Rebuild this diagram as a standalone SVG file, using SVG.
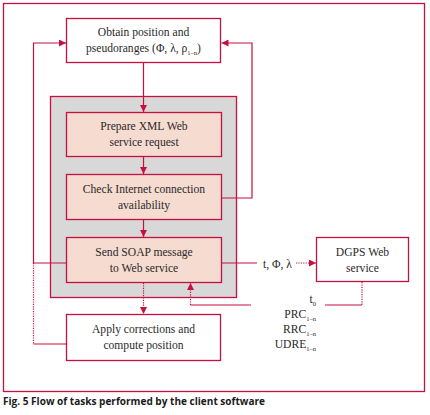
<svg xmlns="http://www.w3.org/2000/svg" width="430" height="415" viewBox="0 0 430 415">
<defs>
<style>
.ln{fill:none;stroke:#c8103e;stroke-width:1.2}
.dt{fill:none;stroke:#c8103e;stroke-width:1.2;stroke-dasharray:1.2 1.2}
.box{fill:#ffffff;stroke:#c8103e;stroke-width:1.3}
.pbox{fill:#f5dbd0;stroke:#c8103e;stroke-width:1.3}
.t{font-family:"Liberation Serif","Times New Roman",serif;font-size:11.6px;fill:#2a2a2a;text-anchor:middle}
.r{font-family:"Liberation Serif","Times New Roman",serif;font-size:11.6px;fill:#2a2a2a;text-anchor:end}
.sub{font-size:6.5px}
</style>
<marker id="ah" viewBox="0 0 10 10" refX="10" refY="5" markerWidth="7" markerHeight="7" markerUnits="userSpaceOnUse" orient="auto">
<path d="M0,0 L10,5 L0,10 z" fill="#c8103e"/>
</marker>
</defs>
<rect x="3.5" y="3.5" width="421" height="388" fill="#ffffff" stroke="#c8103e" stroke-width="1.3"/>
<text x="3" y="405" font-family="'Open Sans','Liberation Sans',sans-serif" font-weight="bold" font-size="10.5" fill="#1a1a1a" textLength="262" lengthAdjust="spacingAndGlyphs">Fig. 5 Flow of tasks performed by the client software</text>

<g id="container">
<rect x="50.5" y="96.5" width="186" height="201" fill="#d8d8d8" stroke="#c8103e" stroke-width="1.3"/>
</g>

<g id="connectors">
<line class="ln" x1="143.5" y1="63" x2="143.5" y2="112" marker-end="url(#ah)"/>
<line class="ln" x1="143.5" y1="157" x2="143.5" y2="174" marker-end="url(#ah)"/>
<line class="ln" x1="143.5" y1="220" x2="143.5" y2="237" marker-end="url(#ah)"/>
<polyline class="ln" points="222,198 252,198 252,43 221.5,43" marker-end="url(#ah)"/>
<polyline class="ln" points="66,263 33.5,263 33.5,43 66,43" marker-end="url(#ah)"/>
<line class="dt" x1="33.5" y1="263" x2="33.5" y2="344"/>
<line class="ln" x1="33.5" y1="344" x2="66" y2="344"/>
<line class="dt" x1="143.5" y1="283" x2="143.5" y2="314" marker-end="url(#ah)"/>
<line class="ln" x1="222" y1="263" x2="257" y2="263"/>
<line class="dt" x1="296" y1="263" x2="316" y2="263" marker-end="url(#ah)"/>
<line class="dt" x1="362" y1="282" x2="362" y2="305"/>
<line class="ln" x1="362" y1="305" x2="325" y2="305"/>
<line class="ln" x1="251" y1="305" x2="190.5" y2="305"/>
<line class="dt" x1="190.5" y1="305" x2="190.5" y2="283" marker-end="url(#ah)"/>
</g>

<g id="obtain">
<rect class="box" x="66.5" y="18.5" width="154" height="44"/>
<text class="t" x="143.5" y="36">Obtain position and</text>
<text class="t" x="143.5" y="52">pseudoranges (Φ, λ, ρ<tspan class="sub" dy="2.5">1–n</tspan><tspan dy="-2.5">)</tspan></text>
</g>

<g id="prepare">
<rect class="pbox" x="66.5" y="112.5" width="155" height="44"/>
<text class="t" x="144" y="130">Prepare XML Web</text>
<text class="t" x="144" y="146">service request</text>
</g>

<g id="check">
<rect class="pbox" x="66.5" y="174.5" width="155" height="45"/>
<text class="t" x="144" y="193">Check Internet connection</text>
<text class="t" x="144" y="209">availability</text>
</g>

<g id="send">
<rect class="pbox" x="66.5" y="237.5" width="155" height="45"/>
<text class="t" x="144" y="256">Send SOAP message</text>
<text class="t" x="144" y="272">to Web service</text>
</g>

<g id="apply">
<rect class="box" x="66.5" y="314.5" width="154" height="46"/>
<text class="t" x="143.5" y="333">Apply corrections and</text>
<text class="t" x="143.5" y="349">compute position</text>
</g>

<g id="dgps">
<rect class="box" x="316.5" y="237.5" width="92" height="44"/>
<text class="t" x="362.5" y="256">DGPS Web</text>
<text class="t" x="362.5" y="272">service</text>
</g>

<g id="labels">
<text class="t" x="277.5" y="268">t, Φ, λ</text>
<text class="r" x="316" y="303">t<tspan class="sub" dy="2.5">0</tspan></text>
<text class="r" x="316" y="318">PRC<tspan class="sub" dy="2.5">1–n</tspan></text>
<text class="r" x="316" y="333">RRC<tspan class="sub" dy="2.5">1–n</tspan></text>
<text class="r" x="316" y="348">UDRE<tspan class="sub" dy="2.5">1–n</tspan></text>
</g>
</svg>
